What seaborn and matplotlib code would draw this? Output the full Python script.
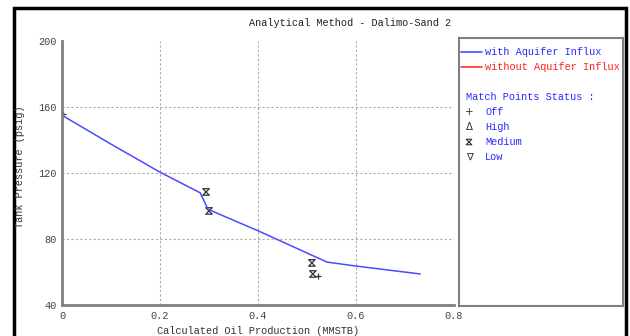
import numpy as np
import pandas as pd
import matplotlib
matplotlib.use("Agg")
import matplotlib.pyplot as plt
from matplotlib.path import Path
from matplotlib.patches import Rectangle
import seaborn as sns

# curve: with aquifer influx
oil_prod = [0.0, 0.1, 0.2, 0.282, 0.298, 0.4, 0.541, 0.6, 0.731]
pressure = [155.0, 137.5, 120.5, 108.0, 98.0, 85.0, 66.0, 63.6, 58.8]

# match points
medium_x = [0.294, 0.300, 0.510, 0.512]
medium_y = [108.5, 97.0, 65.5, 58.8]
off_x = [0.002, 0.522]
off_y = [156.0, 57.8]

x_ticks = [0, 0.2, 0.4, 0.6, 0.8]
x_ticklabels = ["0", "0.2", "0.4", "0.6", "0.8"]
y_ticks = [40, 80, 120, 160, 200]

BLUE = "#4a4aff"
TXT_BLUE = "#2a2aff"
FONT = "Liberation Mono"
FS = 7.4

sns.set_style("white")
plt.rcParams["font.family"] = [FONT, "DejaVu Sans"]

# hourglass marker for "Medium"
hourglass = Path([(-1, 1), (1, 1), (-1, -1), (1, -1), (-1, 1)],
                 [Path.MOVETO, Path.LINETO, Path.LINETO, Path.LINETO, Path.CLOSEPOLY])

fig = plt.figure(figsize=(6.3, 3.36), dpi=100)
W, H = 630, 336

def box(x0, y0, x1, y1):
    return [x0 / W, 1 - y1 / H, (x1 - x0) / W, (y1 - y0) / H]

ax = fig.add_axes(box(62, 41, 454, 305))
# inner grid only (no lines on the plot edges)
for v in x_ticks[1:-1]:
    ax.axvline(v, ls=(0, (2, 2)), color="#aaaaaa", lw=0.8, zorder=0)
for v in y_ticks[1:-1]:
    ax.axhline(v, ls=(0, (2, 2)), color="#aaaaaa", lw=0.8, zorder=0)

curve = pd.DataFrame({"prod": oil_prod, "pres": pressure})
sns.lineplot(data=curve, x="prod", y="pres", ax=ax, color=BLUE, lw=1.1,
             sort=False, estimator=None)
sns.scatterplot(x=medium_x, y=medium_y, ax=ax, marker=hourglass, s=22,
                facecolor="none", edgecolor="#333333", linewidth=0.9)
sns.scatterplot(x=off_x, y=off_y, ax=ax, marker="+", s=22,
                color="#333333", linewidth=0.9)

ax.set_xlim(0, 0.8)
ax.set_ylim(40, 200)
ax.set_xticks(x_ticks)
ax.set_xticklabels(x_ticklabels)
ax.set_yticks(y_ticks)
ax.tick_params(labelsize=FS, colors="#444444", length=0, pad=4)
ax.grid(False)
for side in ["top", "right"]:
    ax.spines[side].set_visible(False)
for side in ["left", "bottom"]:
    ax.spines[side].set_color("#808080")
    ax.spines[side].set_linewidth(2)
ax.set_xlabel("Calculated Oil Production (MMSTB)", fontsize=FS, color="#333333", labelpad=4)
ax.set_ylabel("")

fig.text(20 / W, 1 - 167 / H, "Tank Pressure (psig)", rotation=90, fontsize=FS,
         color="#333333", ha="center", va="center")
fig.text(350 / W, 1 - 23 / H, "Analytical Method - Dalimo-Sand 2", fontsize=FS,
         color="#222222", ha="center", va="center")

# legend panel
lg = fig.add_axes(box(459, 38, 623, 306))
lg.set_xlim(459, 623)
lg.set_ylim(306, 38)
lg.set_xticks([])
lg.set_yticks([])
for s in lg.spines.values():
    s.set_color("#808080")
    s.set_linewidth(1.5)
lg.plot([461, 482], [52, 52], color=BLUE, lw=1.2)
lg.text(485, 52, "with Aquifer Influx", color=TXT_BLUE, fontsize=FS, va="center")
lg.plot([461, 482], [67, 67], color="#ff3030", lw=1.2)
lg.text(485, 67, "without Aquifer Influx", color="#ff2020", fontsize=FS, va="center")
lg.text(466, 97, "Match Points Status :", color=TXT_BLUE, fontsize=FS, va="center")
status = [("+", "Off"), ("\u0394", "High"), (hourglass, "Medium"), ("\u2207", "Low")]
for i, (sym, name) in enumerate(status):
    yy = 112 + i * 15
    if isinstance(sym, str):
        lg.text(469, yy, sym, color="#333333", fontsize=FS, va="center", ha="center",
                family=["DejaVu Sans"])
    else:
        lg.scatter([469], [yy], marker=sym, s=16, facecolor="none",
                   edgecolor="#333333", linewidth=0.8)
    lg.text(485, yy, name, color=TXT_BLUE, fontsize=FS, va="center")

# outer black frame
fig.patches.append(Rectangle((13.5 / W, -0.05), (626 - 13.5) / W, 1.05 - 7.5 / H,
                             transform=fig.transFigure, fill=False,
                             edgecolor="black", lw=2.5))

fig.savefig("out.png", dpi=100)
